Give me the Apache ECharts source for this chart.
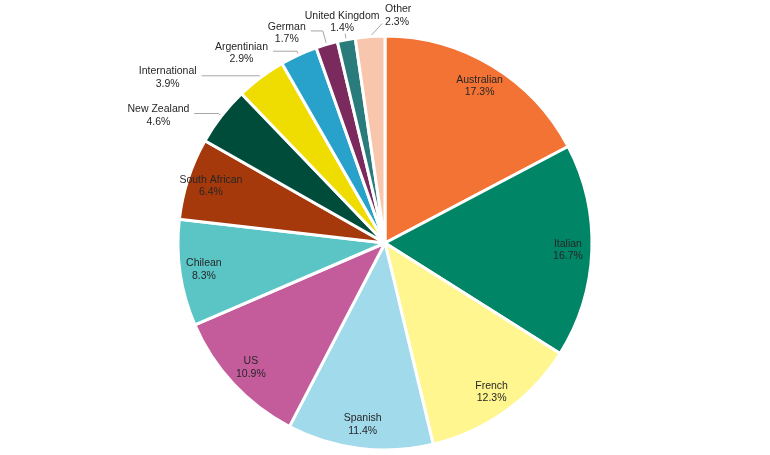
<!DOCTYPE html>
<html>
<head>
<meta charset="utf-8">
<script src="https://cdn.jsdelivr.net/npm/echarts@6/dist/echarts.min.js"></script>
<style>html,body{margin:0;padding:0;background:#fff}#c{width:770px;height:455px}</style>
</head>
<body>
<div id="c"></div>
<script>
const categories = ['Australian','Italian','French','Spanish','US','Chilean','South African','New Zealand','International','Argentinian','German','United Kingdom','Other'];
const values = [17.3, 16.7, 12.3, 11.4, 10.9, 8.3, 6.4, 4.6, 3.9, 2.9, 1.7, 1.4, 2.3];
const colors = ['#F37335','#008566','#FFF68F','#A1DAEB','#C45C9C','#5BC5C6','#A5390B','#004C3B','#EFDC00','#28A2CB','#7A2A5D','#2A7C7C','#F8C6AD'];

// leader-line styling for the small (outside-labelled) slices
const leaderStyle = {
  'New Zealand':    {length: 4,  length2: 24},
  'International':  {length: 2,  length2: 58},
  'Argentinian':    {length: 4,  length2: 24},
  'German':         {length: 14, length2: 12},
  'United Kingdom': {length: 6,  length2: 0, mode: 'above'},
  'Other':          {length: 0,  length2: 0, mode: 'right'}
};

const insideThreshold = 5;
const fmt = p => p.name + '\n' + p.value.toFixed(1) + '%';
const textStyle = {fontFamily: 'Liberation Sans, Arial, sans-serif', fontSize: 10.5, color: '#262626', lineHeight: 12.5};

const chart = echarts.init(document.getElementById('c'));
const center = [385, 243];
const R = 207;
chart.setOption({
  animation: false,
  series: [
    {
      type: 'pie',
      center: center,
      radius: [0, R],
      startAngle: 90,
      clockwise: true,
      silent: true,
      avoidLabelOverlap: false,
      itemStyle: {borderColor: '#fff', borderWidth: 3},
      label: Object.assign({show: false, formatter: fmt}, textStyle),
      labelLine: {show: false, length: 8, length2: 14, lineStyle: {color: '#a6a6a6', width: 1}},
      emphasis: {disabled: true},
      labelLayout: function (p) {
        const st = leaderStyle[categories[p.dataIndex]];
        if (!st) return {};
        const pts = p.labelLinePoints;
        const r = p.labelRect;
        if (st.mode === 'above') {
          return {x: pts[2][0] - 3, y: pts[2][1] + 1, align: 'center', verticalAlign: 'bottom', labelLinePoints: pts};
        }
        if (st.mode === 'right') {
          const start = pts[0];
          const end = [start[0] + 12, start[1] - 13];
          return {x: end[0] + 3, y: end[1] - 8, align: 'left', verticalAlign: 'middle',
                  labelLinePoints: [start, end, end]};
        }
        return {x: r.x + r.width / 2, y: r.y + 2, align: 'center', verticalAlign: 'top', labelLinePoints: pts};
      },
      data: categories.map((n, i) => {
        const small = values[i] < insideThreshold;
        const st = leaderStyle[n] || {};
        return {
          name: n, value: values[i],
          itemStyle: {color: colors[i]},
          label: {show: small, position: 'outside'},
          labelLine: small ? {show: true, length: st.length, length2: st.length2} : {show: false}
        };
      })
    },
    {
      type: 'pie',
      center: center,
      radius: [R * 0.74, R],
      startAngle: 90,
      clockwise: true,
      silent: true,
      itemStyle: {color: 'rgba(0,0,0,0)'},
      label: Object.assign({show: true, position: 'inside', formatter: fmt}, textStyle),
      labelLine: {show: false},
      emphasis: {disabled: true},
      data: categories.map((n, i) => ({
        name: n, value: values[i],
        label: {show: values[i] >= insideThreshold}
      }))
    }
  ]
});
</script>
</body>
</html>
